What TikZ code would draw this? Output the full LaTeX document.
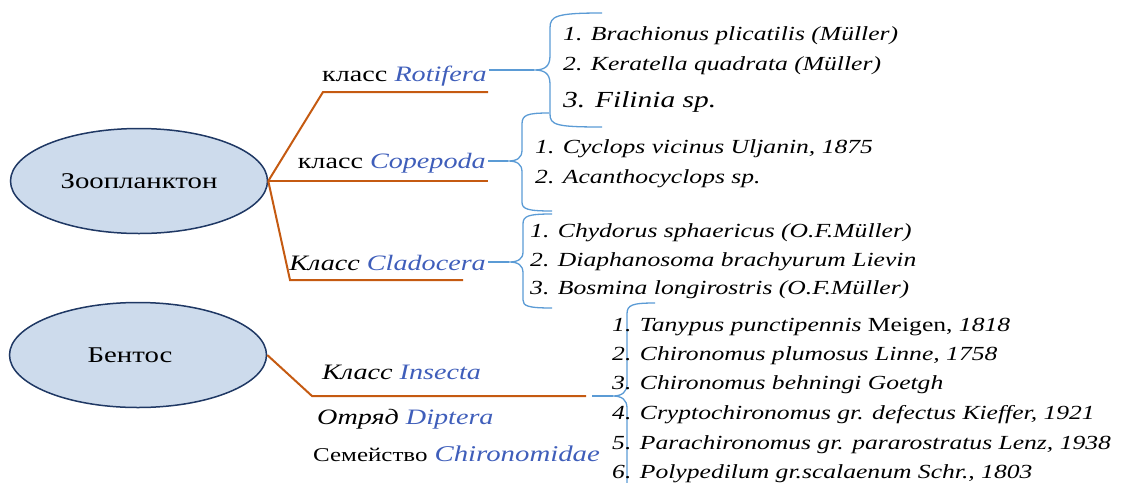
\documentclass[tikz,border=0pt]{standalone}
\usepackage{fontspec}
\setmainfont{Liberation Serif}[FakeStretch=1.28]
\usetikzlibrary{shapes.geometric}
\definecolor{branch-orange}{HTML}{C55A11}
\definecolor{latin-blue}{HTML}{3F5EBA}
\definecolor{brace-blue}{HTML}{5B9BD5}
\definecolor{group-fill}{HTML}{CDDBEC}
\definecolor{group-navy}{HTML}{1F3864}
\newcommand{\lat}[1]{{\color{latin-blue}\itshape #1}}

\begin{document}
\begin{tikzpicture}[x=1pt, y=-1pt,
    every node/.style={inner sep=0pt, font=\fontsize{22}{26}\selectfont},
    group/.style={ellipse, draw=group-navy, line width=1.5pt, fill=group-fill,
      minimum width=257pt, minimum height=105pt, font=\fontsize{22.5}{26}\selectfont},
    branch/.style={draw=branch-orange, line width=2pt},
    clbrace/.style={draw=brace-blue, line width=1.3pt},
    item/.style={anchor=base west, font=\fontsize{20}{24}\selectfont\itshape}]
  \useasboundingbox (0,0) rectangle (1126,482);

  % main groups
  \node[group] (zoo) at (139,181) {Зоопланктон};
  \node[group, label={[font=\fontsize{22.5}{26}\selectfont, xshift=-8pt]center:Бентос}]
    (ben) at (138,355) {};

  % class labels
  \node[anchor=base east] (rot) at (487,81) {класс \lat{Rotifera}};
  \node[anchor=base east] (cop) at (486,168) {класс \lat{Copepoda}};
  \node[anchor=base east] (cla) at (486,270) {\itshape Класс \lat{Cladocera}};
  \node[anchor=base west] (ins) at (322,379) {\itshape Класс \lat{Insecta}};
  \node[anchor=base west] (dip) at (317,424) {\itshape Отряд \lat{Diptera}};
  \node[anchor=base west] (chi) at (313,461)
    {{\fontsize{19.5}{22}\selectfont Семейство} \lat{\fontsize{22.5}{27}\selectfont Chironomidae}};

  % orange branches
  \coordinate (rotL) at (323,92);  \coordinate (rotR) at (488,92);
  \coordinate (copR) at (488,181);
  \coordinate (claL) at (290,280); \coordinate (claR) at (463,280);
  \coordinate (insL) at (312,396); \coordinate (insR) at (586,396);
  \draw[branch] (zoo.east) -- (rotL) -- (rotR);
  \draw[branch] (zoo.east) -- (copR);
  \draw[branch] (zoo.east) -- (claL) -- (claR);
  \draw[branch] (ben.east) -- (insL) -- (insR);

  % braces
  \coordinate (rtip) at (534,70);
  \coordinate (ctip) at (508,161);
  \coordinate (dtip) at (509,262);
  \coordinate (htip) at (613,396);
  \draw[clbrace] ([xshift=2pt]rot.east |- rtip) -- (rtip);
  \draw[clbrace] (602,13) .. controls (556,13) and (550,16) .. (550,28) -- (550,56)
    .. controls (550,67) and (544,70) .. (rtip)
    .. controls (544,70) and (550,73) .. (550,84) -- (550,114)
    .. controls (550,125) and (556,127) .. (602,127);
  \draw[clbrace] ([xshift=2pt]cop.east |- ctip) -- (ctip);
  \draw[clbrace] (549,113) .. controls (527,113) and (522,115) .. (522,124) -- (522,150)
    .. controls (522,158) and (517,161) .. (ctip)
    .. controls (517,161) and (522,164) .. (522,172) -- (522,202)
    .. controls (522,209) and (527,211) .. (552,211);
  \draw[clbrace] ([xshift=2pt]cla.east |- dtip) -- (dtip);
  \draw[clbrace] (552,214) .. controls (528,214) and (523,216) .. (523,224) -- (523,252)
    .. controls (523,259) and (518,262) .. (dtip)
    .. controls (518,262) and (523,265) .. (523,273) -- (523,300)
    .. controls (523,306) and (528,308) .. (552,308);
  \draw[clbrace] ([xshift=6pt]insR) -- (htip);
  \draw[clbrace] (655,303) .. controls (632,303) and (627,305) .. (627,314) -- (627,384)
    .. controls (627,392) and (622,396) .. (htip)
    .. controls (622,396) and (627,400) .. (627,408) -- (627,490);

  % Rotifera species
  \node[item] (r1) at (563,40) {1. Brachionus plicatilis (Müller)};
  \node[item] (r2) at (563,70) {2. Keratella quadrata (Müller)};
  \node[item, font=\fontsize{23}{26}\selectfont\itshape] (r3) at (563,107) {3. Filinia sp.};
  % Copepoda species
  \node[item] (c1) at (535,153) {1. Cyclops vicinus Uljanin, 1875};
  \node[item] (c2) at (535,183) {2. Acanthocyclops sp.};
  % Cladocera species
  \node[item] (d1) at (530,237) {1. Chydorus sphaericus (O.F.Müller)};
  \node[item] (d2) at (530,266) {2. Diaphanosoma brachyurum Lievin};
  \node[item] (d3) at (530,294) {3. Bosmina longirostris (O.F.Müller)};
  % Chironomidae species
  \node[item] (h1) at (612,331) {1. Tanypus punctipennis {\upshape Meigen,} 1818};
  \node[item] (h2) at (612,360) {2. Chironomus plumosus Linne, 1758};
  \node[item] (h3) at (612,389) {3. Chironomus behningi Goetgh};
  \node[item] (h4) at (612,419) {4. Cryptochironomus gr. defectus Kieffer, 1921};
  \node[item] (h5) at (612,449) {5. Parachironomus gr. pararostratus Lenz, 1938};
  \node[item] (h6) at (612,478) {6. Polypedilum gr.scalaenum Schr., 1803};
\end{tikzpicture}
\end{document}
